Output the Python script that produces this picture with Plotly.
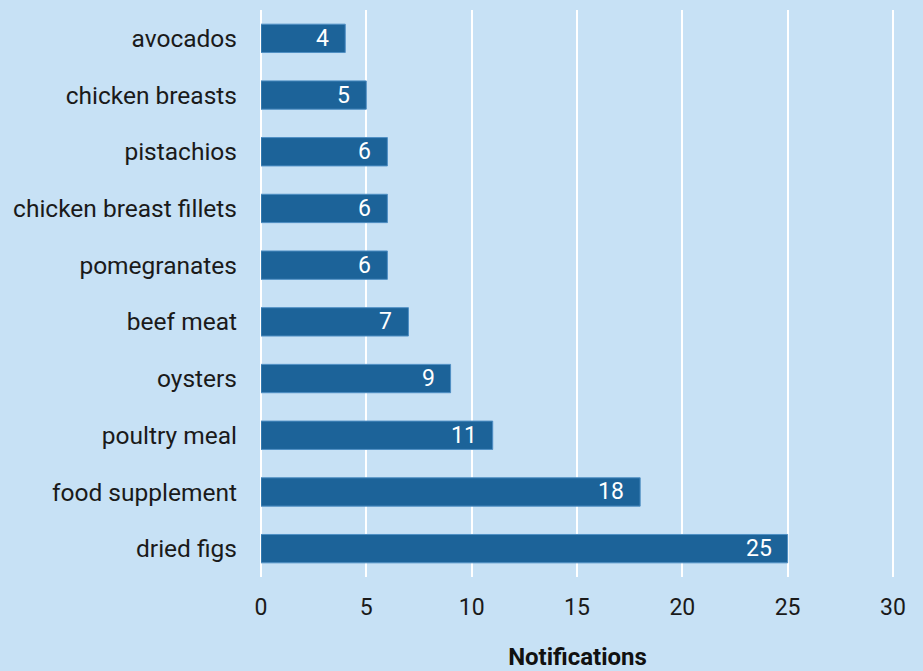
import plotly.graph_objects as go

categories = ["avocados", "chicken breasts", "pistachios", "chicken breast fillets",
              "pomegranates", "beef meat", "oysters", "poultry meal",
              "food supplement", "dried figs"]
notifications = [4, 5, 6, 6, 6, 7, 9, 11, 18, 25]
x_ticks = [0, 5, 10, 15, 20, 25, 30]

BG = "#c7e1f5"
BAR = "#1c6399"

fig = go.Figure(go.Bar(
    y=categories,
    x=notifications,
    orientation="h",
    width=0.5,
    marker=dict(color=BAR, line=dict(color="#4f8fc4", width=1)),
    hoverinfo="x+y",
))

for cat, val in zip(categories, notifications):
    fig.add_annotation(
        x=val, y=cat, xref="x", yref="y", text=str(val),
        showarrow=False, xanchor="right", yanchor="middle", xshift=-14, yshift=0,
        font=dict(color="white", size=23, family="Roboto"),
    )

fig.update_layout(
    width=923, height=671,
    paper_bgcolor=BG, plot_bgcolor=BG,
    margin=dict(l=261, r=29, t=10, b=94),
    font=dict(family="Roboto", size=23, color="#1a1a1a"),
    showlegend=False,
    xaxis=dict(
        range=[0, 30.05], tickvals=x_ticks, showgrid=True, gridcolor="white",
        gridwidth=2, zeroline=True, zerolinecolor="white", zerolinewidth=2,
        ticks="", ticklabelstandoff=14, tickfont=dict(size=23), automargin=False,
        title=dict(text="<b>Notifications</b>", font=dict(size=24, color="#111"), standoff=32),
        fixedrange=True,
    ),
    yaxis=dict(
        autorange="reversed", showgrid=False, ticks="", ticklabelstandoff=23,
        tickfont=dict(size=24.5), fixedrange=True, automargin=False,
    ),
)

fig.write_html("out.html", config={"displayModeBar": False},
               post_script="document.body.style.margin='0';document.body.style.background='%s';" % BG)
